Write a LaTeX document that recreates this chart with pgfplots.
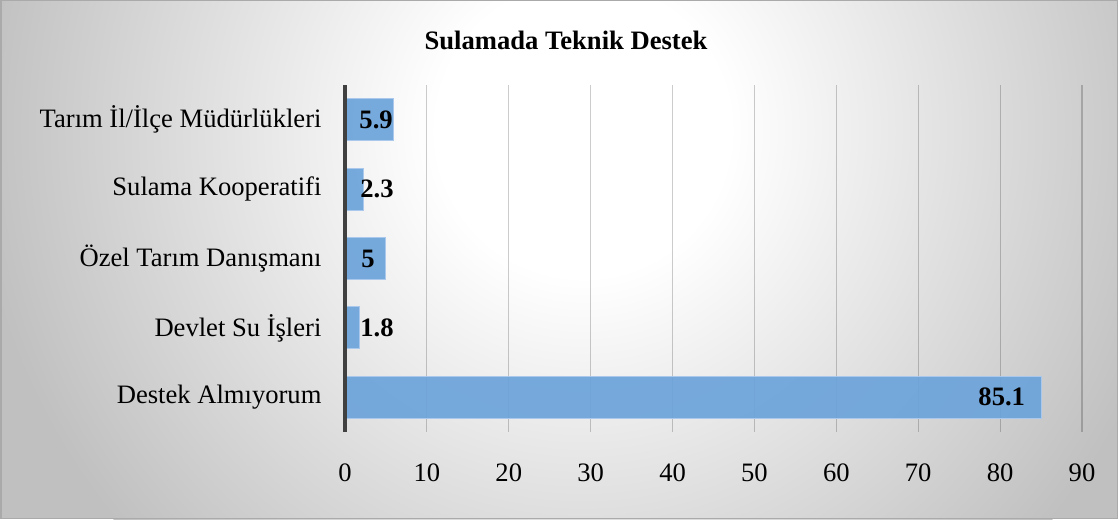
\documentclass[border=0pt]{standalone}
\usepackage{fontspec}
\setmainfont{Liberation Serif}
\usepackage{pgfplots}
\pgfplotsset{compat=1.18}
\definecolor{barfill}{RGB}{108,163,218}
\definecolor{barline}{RGB}{170,200,235}
\definecolor{axiscol}{RGB}{64,64,64}
\definecolor{bgO}{RGB}{192,192,192}
\definecolor{framecol}{RGB}{170,170,170}
\pgfdeclareradialshading{bgrad}{\pgfpointorigin}{color(0bp)=(white); color(6bp)=(white); color(25bp)=(bgO); color(50bp)=(bgO)}
\begin{document}
\begin{tikzpicture}[x=1pt,y=1pt]
\begin{scope}
\clip (0,0) rectangle (1118,519);
\fill[bgO] (0,0) rectangle (1118,519);
\shade[shading=bgrad] (583,389) circle (610);
\end{scope}
\draw[framecol, line width=1.5pt] (0.75,0.75) rectangle (1117.25,518.25);
\node[font=\fontsize{26.6}{30}\selectfont\bfseries] at (566,479) {Sulamada Teknik Destek};
\begin{axis}[
  at={(345pt,87pt)}, anchor=south west,
  scale only axis, width=737pt, height=347pt,
  xmin=0, xmax=90, ymin=-0.5, ymax=4.5,
  xtick={0,10,...,90}, ytick={0,...,4},
  yticklabels={Destek Almıyorum, Devlet Su İşleri, Özel Tarım Danışmanı, Sulama Kooperatifi, Tarım İl/İlçe Müdürlükleri},
  /pgf/number format/assume math mode=true,
  axis line style={draw=none},
  major tick length=0pt,
  xmajorgrids,
  grid style={black, opacity=0.2, line width=1.2pt},
  tick label style={font=\fontsize{26.6}{30}\selectfont, text=black},
  xticklabel style={yshift=-28pt},
  yticklabel style={xshift=-20pt},
  clip=false,
]
\addplot[xbar, bar width=42pt, fill=barfill, fill opacity=0.92, draw=barline, line width=1pt]
  coordinates {(85.1,0) (1.8,1) (5,2) (2.3,3) (5.9,4)};
\addplot[draw=none, mark=none, nodes near coords, point meta=explicit,
  nodes near coords style={anchor=center, font=\fontsize{26.6}{30}\selectfont\bfseries, text=black}]
  coordinates {(80.2,0) [85.1] (3.9,1) [1.8] (2.8,2) [5] (3.9,3) [2.3] (3.8,4) [5.9]};
\draw[axiscol, line width=4pt] (axis cs:0,-0.5) -- (axis cs:0,4.5);
\end{axis}
\end{tikzpicture}
\end{document}
